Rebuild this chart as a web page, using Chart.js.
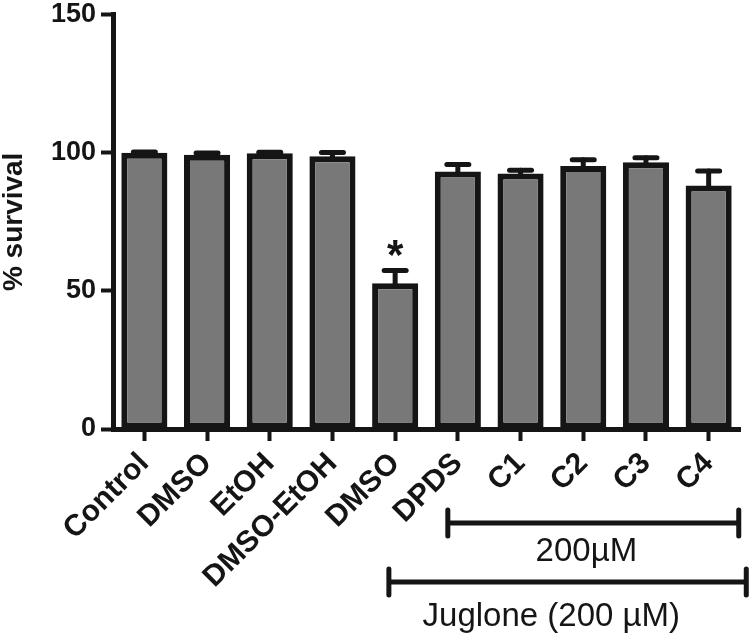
<!DOCTYPE html>
<html>
<head>
<meta charset="utf-8">
<script src="https://cdn.jsdelivr.net/npm/chart.js@4"></script>
<style>
  html, body { margin:0; padding:0; background:#fff; }
  #wrap { width:750px; height:639px; position:relative; }
</style>
</head>
<body>
<div id="wrap"><canvas id="c" width="750" height="639"></canvas></div>
<script>
// ── data ──
const categories = ['Control','DMSO','EtOH','DMSO-EtOH','DMSO','DPDS','C1','C2','C3','C4'];
const survival   = [100, 99.3, 99.8, 98.8, 52.8, 93.2, 92.5, 95.2, 96.6, 88.2];
const sem        = [0.3, 0.6, 0.4, 1.3, 4.6, 2.6, 1.2, 2.3, 1.6, 5.2];
const yTicks     = [0, 50, 100, 150];
const starIndex  = 4;
const brackets = [
  { label:'200\u00B5M', from:4.84, to:9.48, y:523, textAt:7.05, textY:552 },
  { label:'Juglone (200 \u00B5M)', from:3.9, to:9.6, y:582, textAt:6.49, textY:617 }
];

const INK = '#151515';
const FONT = "'Liberation Sans', Arial, Helvetica, sans-serif";

// error bars (upper half only) + asterisk
const errorBars = {
  id:'errorBars',
  afterDatasetsDraw(chart) {
    const {ctx, scales:{y}} = chart;
    const meta = chart.getDatasetMeta(0);
    ctx.save();
    ctx.strokeStyle = INK; ctx.fillStyle = INK;
    ctx.lineWidth = 5; ctx.lineCap = 'round';
    meta.data.forEach((bar, i) => {
      const top = y.getPixelForValue(survival[i] + sem[i]);
      const base = y.getPixelForValue(survival[i]);
      if (base - top > 2) {
        ctx.beginPath(); ctx.moveTo(bar.x, base); ctx.lineTo(bar.x, top); ctx.stroke();
      }
      ctx.beginPath(); ctx.moveTo(bar.x - 11, top); ctx.lineTo(bar.x + 11, top); ctx.stroke();
      if (i === starIndex) {
        ctx.font = `bold 42px ${FONT}`;
        ctx.textAlign = 'center'; ctx.textBaseline = 'alphabetic';
        ctx.fillText('*', bar.x, top - 1);
      }
    });
    ctx.restore();
  }
};

// treatment brackets under the axis
const bracketLines = {
  id:'bracketLines',
  afterDraw(chart) {
    const {ctx, scales:{x}} = chart;
    ctx.save();
    ctx.strokeStyle = INK; ctx.fillStyle = INK;
    ctx.lineWidth = 5; ctx.lineCap = 'round';
    brackets.forEach(b => {
      const x0 = x.getPixelForValue(b.from), x1 = x.getPixelForValue(b.to);
      ctx.beginPath();
      ctx.moveTo(x0, b.y); ctx.lineTo(x1, b.y);
      ctx.moveTo(x0, b.y - 13); ctx.lineTo(x0, b.y + 13);
      ctx.moveTo(x1, b.y - 13); ctx.lineTo(x1, b.y + 13);
      ctx.stroke();
      ctx.font = `33px ${FONT}`;
      ctx.textAlign = 'center'; ctx.textBaseline = 'middle';
      ctx.fillText(b.label, x.getPixelForValue(b.textAt), b.textY);
    });
    ctx.restore();
  }
};

new Chart(document.getElementById('c').getContext('2d'), {
  type:'bar',
  data:{
    labels: categories,
    datasets:[{
      data: survival,
      backgroundColor:'#787878',
      borderColor: INK,
      borderWidth:6,
      borderSkipped:false,
      categoryPercentage:1,
      barPercentage:0.735
    }]
  },
  options:{
    responsive:false, animation:false,
    layout:{ padding:{ top:0, right:10, bottom:0, left:0 } },
    plugins:{ legend:{display:false}, tooltip:{enabled:false} },
    scales:{
      x:{
        afterFit(s){ s.height = 210; },
        border:{ color:INK, width:5 },
        grid:{ offset:false, drawOnChartArea:false, color:INK, tickLength:12, tickWidth:4 },
        ticks:{ color:INK, font:{family:FONT, size:30, weight:'bold'}, maxRotation:45, minRotation:45, padding:5, autoSkip:false }
      },
      y:{
        min:0, max:150,
        afterFit(s){ s.width = 113; },
        afterBuildTicks(s){ s.ticks = yTicks.map(v => ({value:v})); },
        border:{ color:INK, width:5 },
        grid:{ drawOnChartArea:false, color:INK, tickLength:12, tickWidth:4 },
        ticks:{ color:INK, font:{family:FONT, size:27, weight:'bold', lineHeight:0.72}, padding:5 },
        title:{ display:true, text:'% survival', color:INK, font:{family:FONT, size:28, weight:'bold', lineHeight:1}, padding:{top:0, bottom:0} }
      }
    }
  },
  plugins:[errorBars, bracketLines]
});
</script>
</body>
</html>
